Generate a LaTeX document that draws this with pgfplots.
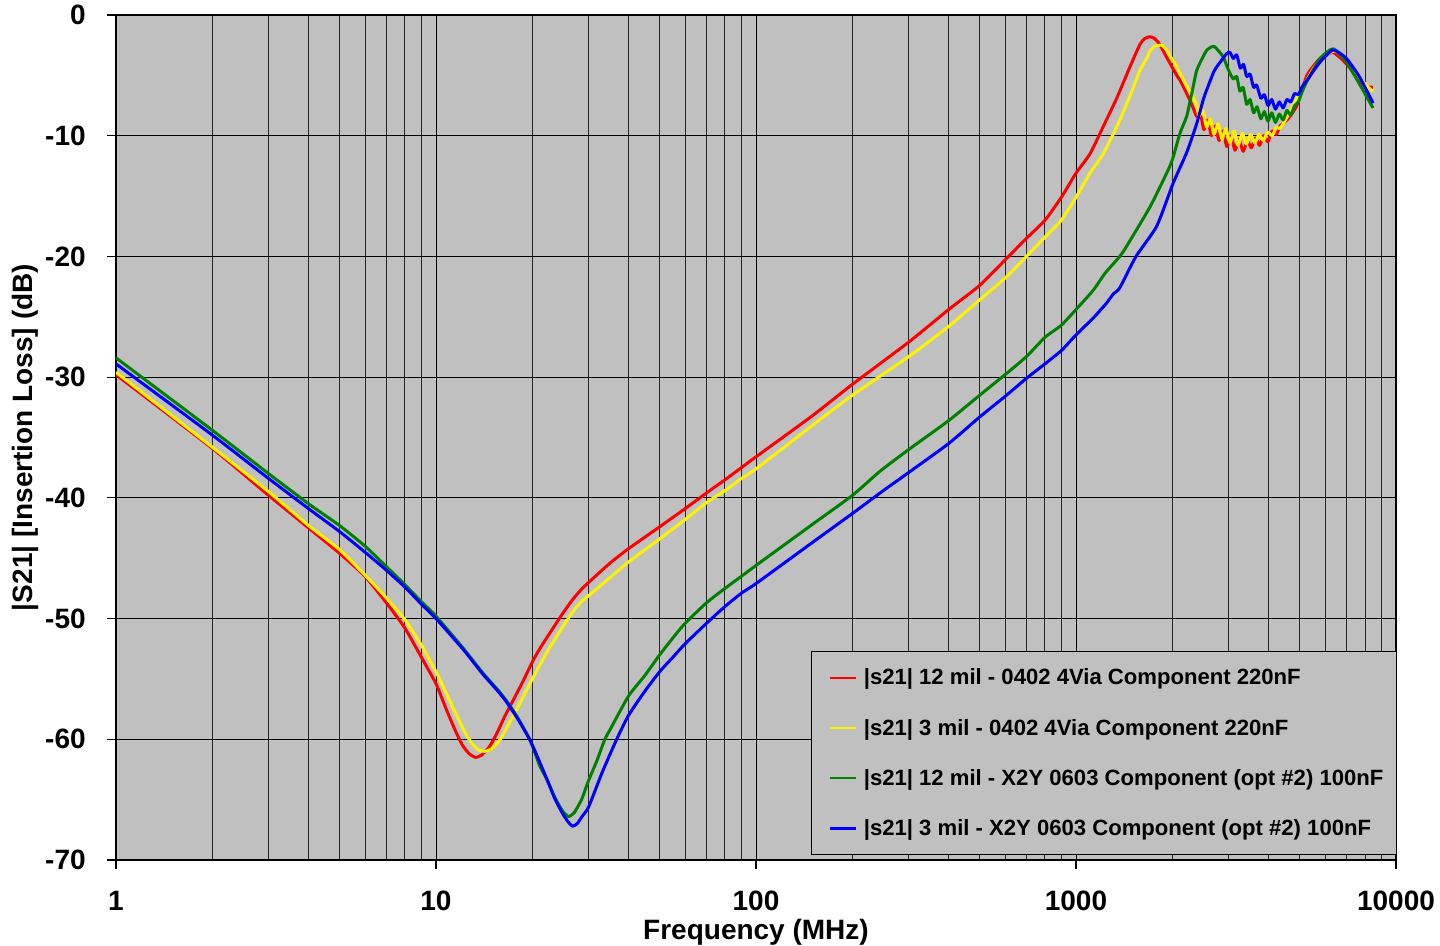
\documentclass[border=0pt]{standalone}
\usepackage{fontspec}
\setmainfont{Liberation Sans}
\usepackage{pgfplots}
\pgfplotsset{compat=1.18}
\definecolor{plotbg}{HTML}{C0C0C0}
\definecolor{sgreen}{HTML}{008000}

\begin{document}
\begin{tikzpicture}
\begin{axis}[
  scale only axis,
  width=640pt, height=422.5pt,
  xmode=log, xmin=1, xmax=10000,
  ymin=-70, ymax=0,
  axis background/.style={fill=plotbg},
  axis line style={black, line width=0.9pt},
  xtick={1,10,100,1000,10000},
  xticklabels={1,10,100,1000,10000},
  minor xtick={2,3,4,5,6,7,8,9,20,30,40,50,60,70,80,90,200,300,400,500,600,700,800,900,2000,3000,4000,5000,6000,7000,8000,9000},
  ytick={-70,-60,-50,-40,-30,-20,-10,0},
  yticklabels={-70,-60,-50,-40,-30,-20,-10,0},
  tick pos=left,
  tick align=outside,
  major tick length=4.5pt,
  minor tick length=0pt,
  tick style={black, line width=0.6pt},
  xmajorgrids, xminorgrids, ymajorgrids,
  major grid style={black, line width=0.5pt},
  minor grid style={black!85, line width=0.5pt},
  tick label style={font=\bfseries\fontsize{14}{14}\selectfont},
  xticklabel style={anchor=north, inner sep=0pt, yshift=-11pt},
  yticklabel style={anchor=east, inner sep=0pt, xshift=-10.5pt},
  xlabel={Frequency (MHz)},
  ylabel={|S21| [Insertion Loss] (dB)},
  label style={font=\bfseries\fontsize{14}{14}\selectfont},
  xlabel style={at={(axis description cs:0.5,-0.086)}, anchor=center, inner sep=0pt},
  ylabel style={at={(axis description cs:-0.0711,0.5)}, anchor=center, inner sep=0pt},
  legend style={at={(axis description cs:1.0008,0.0059)}, anchor=south east,
    fill=plotbg, draw=black, line width=0.6pt,
    font=\bfseries\fontsize{11.05}{11.05}\selectfont,
    row sep=10.35pt, inner xsep=5pt, inner ysep=5.55pt,
    nodes={inner xsep=1.5pt, inner ysep=1.5pt, text height=9.5pt, text depth=2.3pt},
    /tikz/every odd column/.append style={column sep=2pt}},
  legend cell align=left,
  legend image code/.code={\path (0pt,0pt); \draw[#1, line width=1.1pt] (3.5pt,0pt) -- (16.5pt,0pt);},
  every axis plot/.append style={line width=1.5pt, line join=round, smooth, tension=0.35},
]
% red: 12 mil 0402 4Via
\addplot[red] coordinates {
(1,-29.8)(2,-35.9)(3,-39.8)(4,-42.5)(5,-44.6)(6,-46.5)(7,-48.7)(8,-50.8)(9,-53.2)
(10,-55.4)(10.8,-57.6)(11.5,-59.3)(12.1,-60.5)(12.7,-61.2)(13.3,-61.5)(13.9,-61.3)
(14.7,-60.6)(15.5,-59.5)(16.4,-58.1)(17.4,-56.8)(18.7,-55.2)(20,-53.6)(21.1,-52.5)
(23.2,-50.8)(25,-49.5)(26.6,-48.5)(28.2,-47.7)(30,-47.0)(35,-45.4)(40,-44.2)
(50,-42.4)(60,-40.9)(70,-39.6)(80,-38.5)(90,-37.5)(100,-36.6)(150,-33.2)(200,-30.6)
(300,-27.1)(400,-24.4)(500,-22.4)(600,-20.3)(700,-18.5)(800,-17.0)(900,-15.1)
(1000,-13.1)(1106,-11.5)(1216,-9.25)(1340,-6.9)(1474,-4.3)(1583,-2.45)(1640,-1.95)
(1703,-1.8)(1760,-1.95)(1823,-2.4)(1920,-3.5)(1967,-4.0)(2064,-5.0)(2113,-5.4)
(2217,-6.5)(2300,-7.4)(2383,-8.4)(2440,-8.0)(2510,-9.5)(2580,-8.7)(2650,-10.0)(2720,-9.2)
(2800,-10.4)(2880,-9.6)(2960,-10.9)(3050,-10.0)(3140,-11.2)(3230,-10.3)(3330,-11.3)
(3430,-10.4)(3530,-11.0)(3640,-10.2)(3750,-10.8)(3860,-10.0)(3980,-10.5)(4100,-9.6)
(4230,-9.9)(4341,-9.2)(4600,-8.6)(4899,-7.5)(5270,-5.0)(5788,-3.6)(6356,-3.1)
(7027,-4.1)(7718,-5.5)(8100,-5.9)(8475,-6.0)
};
\addlegendentry{|s21| 12 mil - 0402 4Via Component 220nF}
% yellow: 3 mil 0402 4Via
\addplot[yellow] coordinates {
(1,-29.6)(2,-35.8)(3,-39.5)(4,-42.3)(5,-44.3)(6,-46.4)(7,-48.3)(8,-50.1)(9,-52.2)
(10,-54.4)(11.4,-57.6)(12.3,-59.4)(13,-60.4)(13.6,-60.9)(14.2,-61.0)(14.9,-60.8)
(15.8,-60.1)(17,-58.6)(18.3,-57.0)(20,-55.0)(22.2,-52.8)(25,-50.6)(26.5,-49.6)
(28.2,-48.7)(30,-48.1)(35,-46.6)(40,-45.3)
(50,-43.4)(60,-41.8)(70,-40.4)(80,-39.4)(90,-38.4)(100,-37.6)(150,-34.0)(200,-31.5)
(300,-28.3)(400,-25.8)(500,-23.6)(600,-21.8)(700,-20.0)(800,-18.4)(900,-17.0)
(1000,-15.1)(1106,-13.1)(1216,-11.5)(1355,-9.0)(1490,-6.4)(1583,-4.6)(1663,-3.6)
(1703,-3.0)(1760,-2.6)(1850,-2.5)(1920,-2.9)(1967,-3.4)(2064,-4.3)(2217,-5.9)
(2383,-7.4)(2420,-8.4)(2490,-7.9)(2560,-9.3)(2630,-8.6)(2700,-9.9)(2780,-9.0)
(2860,-10.3)(2940,-9.4)(3030,-10.6)(3120,-9.6)(3210,-10.8)(3310,-9.8)(3410,-10.7)
(3510,-9.9)(3620,-10.6)(3730,-9.9)(3850,-10.4)(3970,-9.7)(4100,-10.0)(4230,-9.3)
(4340,-9.4)(4600,-8.3)(4900,-6.9)(5530,-4.4)(6060,-3.3)(6500,-3.0)(7150,-4.1)
(7870,-5.5)(8475,-6.35)
};
\addlegendentry{|s21| 3 mil - 0402 4Via Component 220nF}
% green: 12 mil X2Y 0603
\addplot[sgreen] coordinates {
(1,-28.4)(2,-34.4)(3,-38.0)(4,-40.5)(5,-42.3)(6,-44.0)(7,-45.7)(8,-47.2)(9,-48.6)
(10,-49.8)(12.2,-52.5)(14,-54.5)(15.6,-55.9)(16.6,-56.8)(18,-58.2)(19.7,-60.1)
(21.1,-62.2)(22.2,-63.3)(23.5,-64.8)(24.8,-65.9)(25.9,-66.4)(27,-66.1)(28.5,-65.0)
(30,-63.4)(31.8,-61.8)(33.7,-60.0)(35,-59.2)(40,-56.4)(45,-54.7)(50,-53.0)(55,-51.6)
(60,-50.4)(70,-48.7)(80,-47.5)(90,-46.5)(100,-45.6)(150,-42.2)(200,-39.8)
(244,-37.8)(300,-36.0)(400,-33.6)(500,-31.5)(600,-29.8)(700,-28.3)(800,-26.7)
(900,-25.7)(1000,-24.4)(1132,-22.8)(1232,-21.4)(1370,-20.0)(1436,-19.2)(1703,-15.9)
(1920,-13.1)(2000,-12.0)(2113,-9.8)(2217,-8.4)(2300,-6.5)(2383,-4.6)(2480,-3.6)
(2566,-2.9)(2700,-2.6)(2880,-3.45)(3000,-4.6)(3100,-5.3)(3180,-5.1)(3250,-6.3)
(3330,-6.0)(3415,-7.4)(3500,-7.0)(3590,-8.1)(3680,-7.6)(3780,-8.6)(3880,-8.0)
(3980,-8.8)(4090,-8.1)(4200,-8.9)(4320,-8.2)(4440,-8.7)(4560,-7.9)(4690,-8.3)
(4820,-7.5)(4950,-7.2)(5100,-6.3)(5270,-5.5)
(5790,-3.6)(6360,-2.8)(7000,-3.9)(7720,-5.8)(8475,-7.7)
};
\addlegendentry{|s21| 12 mil - X2Y 0603 Component (opt \#2) 100nF}
% blue: 3 mil X2Y 0603
\addplot[blue] coordinates {
(1,-28.9)(2,-34.8)(3,-38.4)(4,-40.9)(5,-42.8)(6,-44.5)(7,-46.0)(8,-47.4)(9,-48.8)
(10,-50.0)(12.2,-52.6)(14,-54.6)(15.6,-56.0)(16.6,-56.9)(18,-58.3)(19.7,-60.1)
(21.1,-61.9)(22.2,-63.3)(23.5,-64.9)(24.8,-66.1)(25.8,-66.8)(26.7,-67.2)(27.6,-67.0)
(28.6,-66.4)(30,-65.6)(33,-62.8)(36.7,-60.0)(40,-58.0)(45,-56.0)(50,-54.4)(55,-53.2)
(60,-52.1)(70,-50.4)(80,-49.0)(90,-47.9)(100,-47.1)(150,-43.7)
(200,-41.3)(250,-39.4)(300,-37.9)(400,-35.5)(500,-33.3)(600,-31.6)
(700,-30.1)(800,-28.9)(900,-27.8)(1000,-26.5)(1132,-25.1)(1243,-23.9)(1309,-23.1)
(1370,-22.6)(1540,-20.0)(1787,-17.5)(2014,-13.9)(2217,-11.4)(2383,-9.0)(2499,-7.0)
(2561,-6.2)(2686,-4.8)(2752,-4.3)(2957,-3.2)(3029,-3.1)(3102,-3.6)(3180,-3.3)
(3260,-4.4)(3340,-4.1)(3415,-5.1)(3500,-4.9)(3590,-6.0)(3670,-5.8)(3780,-6.9)
(3880,-6.6)(3980,-7.5)(4090,-7.0)(4200,-7.8)(4320,-7.2)(4440,-7.7)(4560,-7.0)
(4690,-7.2)(4820,-6.5)(4950,-6.6)(5100,-5.9)(5270,-5.4)(5790,-3.9)(6360,-2.9)
(7000,-3.6)(7720,-5.2)(8475,-7.3)
};
\addlegendentry{|s21| 3 mil - X2Y 0603 Component (opt \#2) 100nF}
\end{axis}
\pgfresetboundingbox
\path[use as bounding box] (-58pt,-43pt) rectangle (662pt,430pt);
\end{tikzpicture}
\end{document}
